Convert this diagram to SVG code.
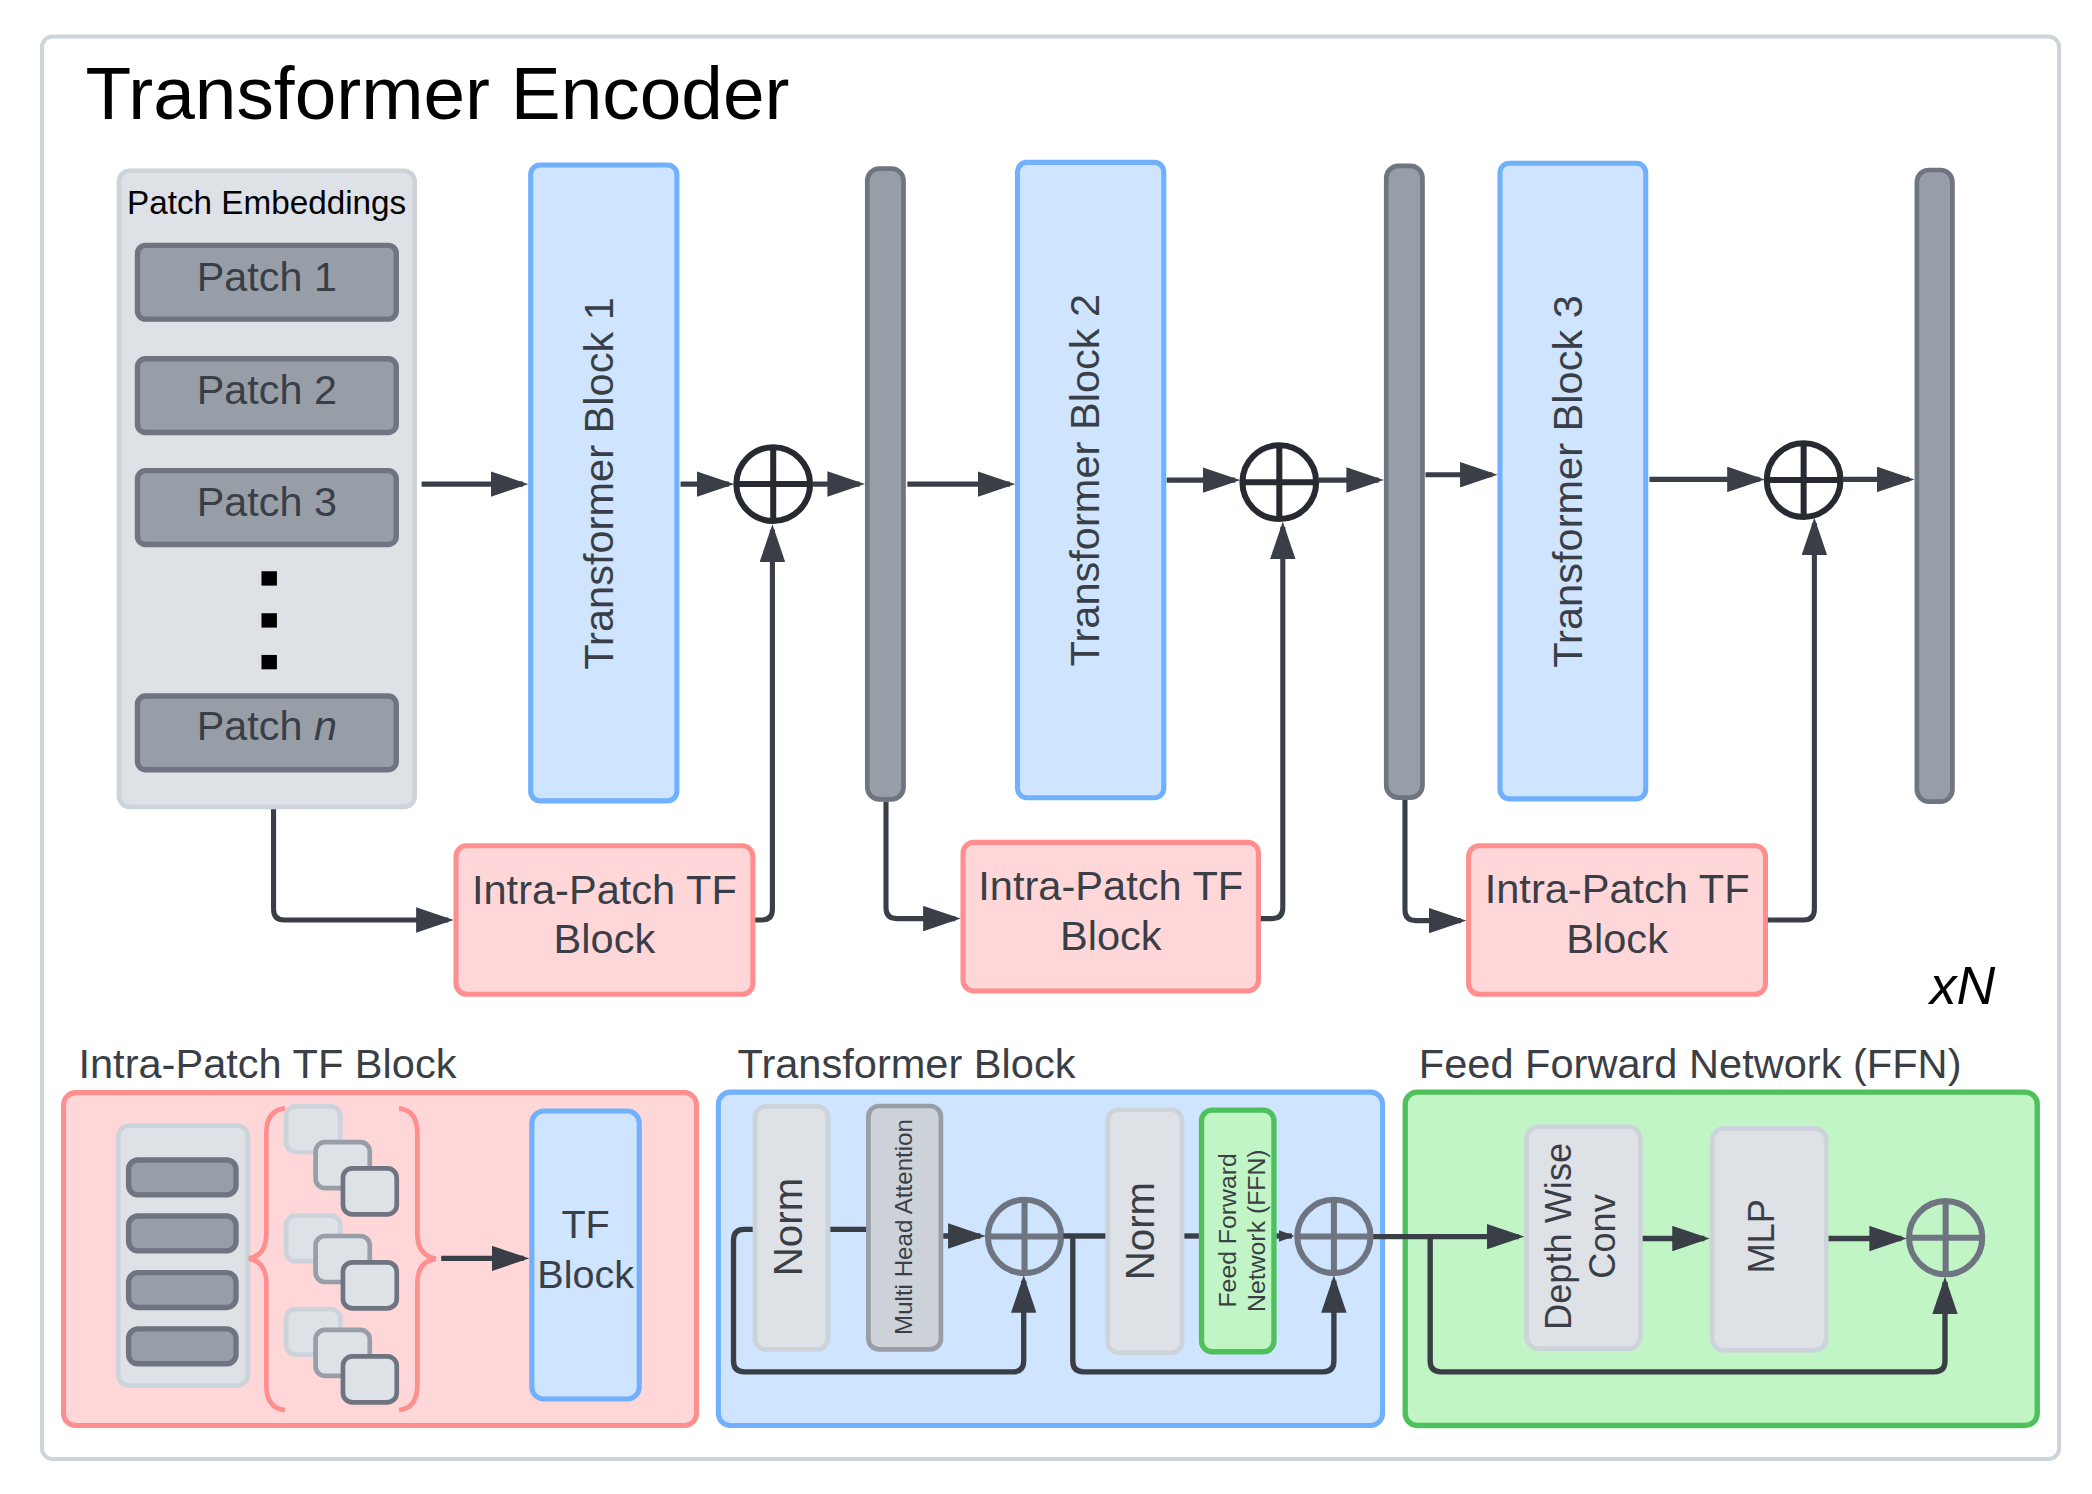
<svg xmlns="http://www.w3.org/2000/svg" width="2092" height="1494" viewBox="0 0 2092 1494">
<defs>
<style>
text{font-family:"Liberation Sans",Arial,sans-serif;}
.lbl{fill:#3a3f47;}
.blk{fill:#000;}
.cont{fill:#dee1e6;stroke:#cdd3da;stroke-width:3.5;}
.patch{fill:#979ea8;stroke:#6e7480;stroke-width:4;}
.blue{fill:#cfe4fe;stroke:#70b0fc;stroke-width:3.8;}
.red{fill:#ffd7d9;stroke:#fe8f8e;stroke-width:3.8;}
.green{fill:#c2f5c5;stroke:#4fc15c;stroke-width:4;}
.bar{fill:#979ea8;stroke:#6e7480;stroke-width:3.5;}
.sum{fill:none;stroke:#272b31;stroke-width:4.5;}
.sum2{fill:none;stroke:#6e7480;stroke-width:4.5;}
.wire{fill:none;stroke:#3a3f47;stroke-width:3.8;}
.wire2{fill:none;stroke:#3a3f47;stroke-width:4;}
.brace{fill:none;stroke:#fe8f8e;stroke-width:3.5;}
</style>
<marker id="ah" markerUnits="userSpaceOnUse" markerWidth="28" markerHeight="19" refX="24" refY="9.5" orient="auto">
<path d="M0,0 L28,9.5 L0,19 Z" fill="#3a3f47"/>
</marker>
<marker id="ahs" markerUnits="userSpaceOnUse" markerWidth="12" markerHeight="9" refX="10" refY="4.5" orient="auto">
<path d="M0,0 L12,4.5 L0,9 Z" fill="#3a3f47"/>
</marker>
</defs>
<rect width="2092" height="1494" fill="#fff"/>
<g transform="scale(1.341)">
<g id="encoder">
<rect x="31.3" y="27.2" width="1504.2" height="1060.8" rx="8" fill="#fff" stroke="#cdd4dc" stroke-width="3"/>
<text x="63.7" y="89" font-size="55.8" class="blk">Transformer Encoder</text>
</g>

<g id="patch-embeddings">
<rect class="cont" x="88.75" y="127.35" width="220.5" height="474.4" rx="8"/>
<text x="198.8" y="159.8" font-size="24.8" text-anchor="middle" class="blk">Patch Embeddings</text>
<rect class="patch" x="102.5" y="183" width="193" height="55" rx="6"/>
<text x="199" y="217" font-size="30.8" text-anchor="middle" class="lbl">Patch 1</text>
<rect class="patch" x="102.5" y="267.5" width="193" height="55" rx="6"/>
<text x="199" y="301" font-size="30.8" text-anchor="middle" class="lbl">Patch 2</text>
<rect class="patch" x="102.5" y="351" width="193" height="55" rx="6"/>
<text x="199" y="384.7" font-size="30.8" text-anchor="middle" class="lbl">Patch 3</text>
<rect x="195" y="426" width="11.5" height="10.7" fill="#000"/>
<rect x="195" y="457.3" width="11.5" height="10.7" fill="#000"/>
<rect x="195" y="488.4" width="11.5" height="10.7" fill="#000"/>
<rect class="patch" x="102.5" y="519" width="193" height="55" rx="6"/>
<text x="199" y="551.8" font-size="30.8" text-anchor="middle" class="lbl">Patch <tspan font-style="italic">n</tspan></text>
</g>

<g id="tb1">
<rect class="blue" x="395.75" y="123.05" width="109" height="474.2" rx="7"/>
<text transform="translate(457,360.5) rotate(-90)" font-size="31" text-anchor="middle" class="lbl">Transformer Block 1</text>
</g>
<g id="tb2">
<rect class="blue" x="758.75" y="121.05" width="109.1" height="473.8" rx="7"/>
<text transform="translate(819.8,358) rotate(-90)" font-size="31" text-anchor="middle" class="lbl">Transformer Block 2</text>
</g>
<g id="tb3">
<rect class="blue" x="1118.55" y="121.75" width="108.7" height="474" rx="7"/>
<text transform="translate(1179.5,359) rotate(-90)" font-size="31" text-anchor="middle" class="lbl">Transformer Block 3</text>
</g>

<g id="bar1"><rect class="bar" x="646.75" y="125.75" width="27" height="470.3" rx="9"/></g>
<g id="bar2"><rect class="bar" x="1033.75" y="123.75" width="27" height="471" rx="9"/></g>
<g id="bar3"><rect class="bar" x="1429.45" y="126.75" width="26.5" height="471" rx="9"/></g>

<g id="add1"><circle class="sum" cx="576.6" cy="361" r="27.5"/><path class="sum" d="M549.1 361 H604.1 M576.6 333.5 V388.5"/></g>
<g id="add2"><circle class="sum" cx="954" cy="359.6" r="27.5"/><path class="sum" d="M926.5 359.6 H981.5 M954 332.1 V387.1"/></g>
<g id="add3"><circle class="sum" cx="1345" cy="358" r="27.5"/><path class="sum" d="M1317.5 358 H1372.5 M1345 330.5 V385.5"/></g>

<g id="ip1">
<rect class="red" x="340.05" y="630.65" width="221.4" height="110.8" rx="8"/>
<text x="450.7" y="674" font-size="31" text-anchor="middle" class="lbl">Intra-Patch TF</text>
<text x="450.7" y="711" font-size="31" text-anchor="middle" class="lbl">Block</text>
</g>
<g id="ip2">
<rect class="red" x="718.15" y="628.15" width="220.3" height="110.8" rx="8"/>
<text x="828.3" y="671" font-size="31" text-anchor="middle" class="lbl">Intra-Patch TF</text>
<text x="828.3" y="708.4" font-size="31" text-anchor="middle" class="lbl">Block</text>
</g>
<g id="ip3">
<rect class="red" x="1095.15" y="630.65" width="221.4" height="110.8" rx="8"/>
<text x="1205.9" y="673.6" font-size="31" text-anchor="middle" class="lbl">Intra-Patch TF</text>
<text x="1205.9" y="711" font-size="31" text-anchor="middle" class="lbl">Block</text>
</g>

<g id="xN"><text x="1439" y="748.7" font-size="40" font-style="italic" class="blk">xN</text></g>

<g id="connectors-top">
<path class="wire" marker-end="url(#ah)" d="M314.4 361 H390"/>
<path class="wire" marker-end="url(#ah)" d="M507.5 361 H543.5"/>
<path class="wire" marker-end="url(#ah)" d="M606 361 H641"/>
<path class="wire" marker-end="url(#ah)" d="M676.6 361 H753"/>
<path class="wire" marker-end="url(#ah)" d="M870 358 H921"/>
<path class="wire" marker-end="url(#ah)" d="M983.5 358 H1028"/>
<path class="wire" marker-end="url(#ah)" d="M1063 354 H1112.8"/>
<path class="wire" marker-end="url(#ah)" d="M1230 357.5 H1312"/>
<path class="wire" marker-end="url(#ah)" d="M1374 357.5 H1423.7"/>
<path class="wire" marker-end="url(#ah)" d="M204 603.5 V678 Q204 686 212 686 H334.3"/>
<path class="wire" marker-end="url(#ah)" d="M563.2 686 H568 Q576 686 576 678 V395"/>
<path class="wire" marker-end="url(#ah)" d="M660.7 597.8 V677 Q660.7 685 668.7 685 H712.4"/>
<path class="wire" marker-end="url(#ah)" d="M940.2 685 H948.6 Q956.6 685 956.6 677 V393"/>
<path class="wire" marker-end="url(#ah)" d="M1047.7 596.6 V678.5 Q1047.7 686.5 1055.7 686.5 H1089.4"/>
<path class="wire" marker-end="url(#ah)" d="M1318.3 686 H1345 Q1353 686 1353 678 V390"/>
</g>

<g id="intra-patch-detail">
<text x="58.5" y="804" font-size="31" class="lbl">Intra-Patch TF Block</text>
<rect class="red" x="47.4" y="814.8" width="472" height="248.2" rx="9" stroke-width="4"/>
<rect class="cont" x="88.15" y="839.45" width="96.8" height="193.8" rx="8"/>
<rect class="patch" x="95.9" y="865" width="80.1" height="26" rx="7"/>
<rect class="patch" x="95.9" y="906.8" width="80.1" height="26" rx="7"/>
<rect class="patch" x="95.9" y="949" width="80.1" height="26" rx="7"/>
<rect class="patch" x="95.9" y="991" width="80.1" height="26" rx="7"/>
<path class="brace" d="M212.5 826.5 Q198.6 828 198.6 845 V920 Q198.6 936 185.7 938.6 Q198.6 941 198.6 957 V1033 Q198.6 1050 212.5 1051.5"/>
<path class="brace" d="M297.6 826.5 Q311.2 828 311.2 845 V920 Q311.2 936 324.8 938.6 Q311.2 941 311.2 957 V1033 Q311.2 1050 297.6 1051.5"/>
<rect x="213.35" y="825.05" width="40.5" height="34" rx="7" fill="#dee1e6" stroke="#cdd3da" stroke-width="3.5"/>
<rect x="235.35" y="851.75" width="40.4" height="34.3" rx="7" fill="#dee1e6" stroke="#979ea8" stroke-width="3.5"/>
<rect x="255.75" y="871.25" width="40.1" height="34.3" rx="7" fill="#dee1e6" stroke="#6e7480" stroke-width="3.5"/>
<rect x="213.35" y="906.5" width="40.5" height="34" rx="7" fill="#dee1e6" stroke="#cdd3da" stroke-width="3.5"/>
<rect x="235.35" y="921.7" width="40.4" height="34.3" rx="7" fill="#dee1e6" stroke="#979ea8" stroke-width="3.5"/>
<rect x="255.75" y="941.3" width="40.1" height="34.3" rx="7" fill="#dee1e6" stroke="#6e7480" stroke-width="3.5"/>
<rect x="213.35" y="976.2" width="40.5" height="34" rx="7" fill="#dee1e6" stroke="#cdd3da" stroke-width="3.5"/>
<rect x="235.35" y="991.7" width="40.4" height="34.3" rx="7" fill="#dee1e6" stroke="#979ea8" stroke-width="3.5"/>
<rect x="255.75" y="1011.4" width="40.1" height="34.3" rx="7" fill="#dee1e6" stroke="#6e7480" stroke-width="3.5"/>
<rect class="blue" x="396.6" y="828.5" width="80.1" height="214.8" rx="9" stroke-width="4"/>
<text x="436.7" y="923.5" font-size="29.5" text-anchor="middle" class="lbl">TF</text>
<text x="436.7" y="960.8" font-size="29.5" text-anchor="middle" class="lbl">Block</text>
</g>

<g id="transformer-block-detail">
<text x="550" y="803.6" font-size="31" class="lbl">Transformer Block</text>
<rect class="blue" x="535.7" y="814.4" width="495.3" height="248.6" rx="9" stroke-width="4"/>
<rect class="cont" x="563.05" y="825.05" width="54.4" height="181.2" rx="8"/>
<text transform="translate(597.9,915) rotate(-90)" font-size="30" text-anchor="middle" class="lbl">Norm</text>
<rect x="647.55" y="824.75" width="54.1" height="181.5" rx="8" fill="#cdd2d8" stroke="#979ea8" stroke-width="3.5"/>
<text transform="translate(680.1,915) rotate(-90)" font-size="18" text-anchor="middle" class="lbl">Multi Head Attention</text>
<rect class="cont" x="826.05" y="827.55" width="55.4" height="181.2" rx="8"/>
<text transform="translate(860.9,918) rotate(-90)" font-size="30" text-anchor="middle" class="lbl">Norm</text>
<rect class="green" x="896" y="827.8" width="54" height="180.2" rx="8"/>
<text transform="translate(921.5,917.5) rotate(-90)" font-size="18.5" text-anchor="middle" class="lbl">Feed Forward</text>
<text transform="translate(943,917.7) rotate(-90)" font-size="18.5" text-anchor="middle" class="lbl">Network (FFN)</text>
<circle class="sum2" cx="764" cy="922" r="27.3"/><path class="sum2" d="M736.7 922 H791.3 M764 894.7 V949.3"/>
<circle class="sum2" cx="994.7" cy="922" r="27.3"/><path class="sum2" d="M967.4 922 H1022 M994.7 894.7 V949.3"/>
</g>

<g id="ffn-detail">
<text x="1058" y="803.6" font-size="31" class="lbl">Feed Forward Network (FFN)</text>
<rect class="green" x="1047.9" y="814.4" width="471.3" height="248.6" rx="9"/>
<rect class="cont" x="1138.35" y="840.25" width="84.9" height="165.5" rx="9"/>
<text transform="translate(1171.2,922) rotate(-90)" font-size="27" text-anchor="middle" class="lbl">Depth Wise</text>
<text transform="translate(1204.5,922) rotate(-90)" font-size="27" text-anchor="middle" class="lbl">Conv</text>
<rect class="cont" x="1276.75" y="841.45" width="85.1" height="165.6" rx="9"/>
<text transform="translate(1322.9,922) rotate(-90)" font-size="27" text-anchor="middle" class="lbl">MLP</text>
<circle class="sum2" cx="1450.9" cy="923" r="27.3"/><path class="sum2" d="M1423.6 923 H1478.2 M1450.9 895.7 V950.3"/>
</g>

<g id="connectors-bottom">
<path class="wire2" marker-end="url(#ah)" d="M329 938.4 H390.6"/>
<path class="wire2" marker-end="url(#ah)" d="M561.3 916.8 H555 Q547 916.8 547 925 V1015 Q547 1023 555 1023 H755.4 Q763.4 1023 763.4 1015 V955"/>
<path class="wire2" d="M619.2 916.8 H645.8"/>
<path class="wire2" marker-end="url(#ah)" d="M703.4 921.7 H731"/>
<path class="wire2" d="M793 921.7 H824.3"/>
<path class="wire2" marker-end="url(#ah)" d="M800 921.7 V1015 Q800 1023 808 1023 H986.7 Q994.7 1023 994.7 1015 V955"/>
<path class="wire2" d="M883.2 921.7 H894"/>
<path class="wire2" marker-end="url(#ahs)" d="M952 921.7 H963.4"/>
<path class="wire2" marker-end="url(#ah)" d="M1024 922.2 H1132.6"/>
<path class="wire2" marker-end="url(#ah)" d="M1066.5 922.2 V1015 Q1066.5 1023 1074.5 1023 H1442.4 Q1450.4 1023 1450.4 1015 V956"/>
<path class="wire2" marker-end="url(#ah)" d="M1225 923.6 H1271"/>
<path class="wire2" marker-end="url(#ah)" d="M1363.6 923.6 H1418"/>
</g>
</g>
</svg>
